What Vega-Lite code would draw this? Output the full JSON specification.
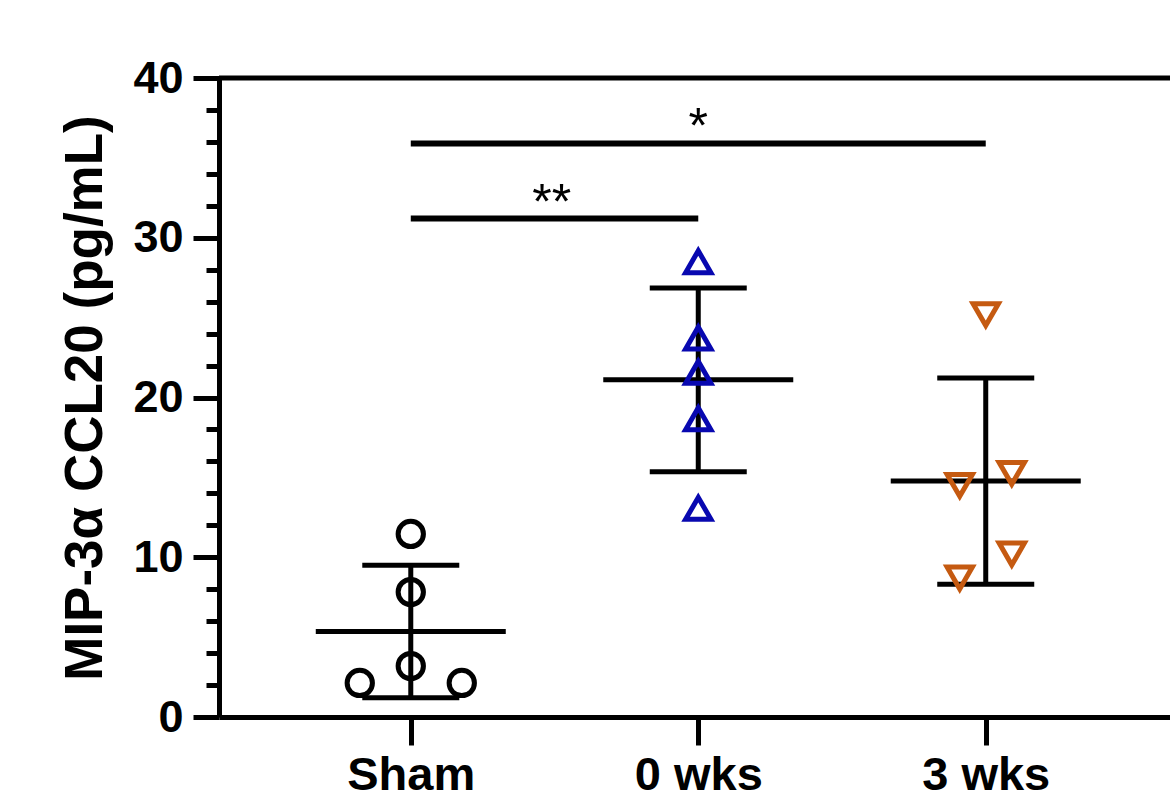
{
  "$schema": "https://vega.github.io/schema/vega-lite/v6.json",
  "autosize": {"type": "none"},
  "width": 951,
  "height": 639,
  "padding": {"left": 219, "top": 78, "right": 0, "bottom": 75},
  "background": "white",
  "config": {"view": {"stroke": null}, "font": "Liberation Sans"},
  "datasets": {
    "points": [
      {"group": "Sham", "value": 11.46, "jitter": 0},
      {"group": "Sham", "value": 7.82, "jitter": 0},
      {"group": "Sham", "value": 3.19, "jitter": 0},
      {"group": "Sham", "value": 2.13, "jitter": -1},
      {"group": "Sham", "value": 2.13, "jitter": 1},
      {"group": "0 wks", "value": 28.5, "jitter": 0},
      {"group": "0 wks", "value": 23.72, "jitter": 0},
      {"group": "0 wks", "value": 21.58, "jitter": 0},
      {"group": "0 wks", "value": 18.67, "jitter": 0},
      {"group": "0 wks", "value": 13.06, "jitter": 0},
      {"group": "3 wks", "value": 25.19, "jitter": 0},
      {"group": "3 wks", "value": 14.5, "jitter": -0.51},
      {"group": "3 wks", "value": 15.25, "jitter": 0.51},
      {"group": "3 wks", "value": 10.2, "jitter": 0.51},
      {"group": "3 wks", "value": 8.7, "jitter": -0.51}
    ],
    "sig": [
      {"from": "Sham", "to": "0 wks", "y": 31.2, "label": "**"},
      {"from": "Sham", "to": "3 wks", "y": 35.9, "label": "*"}
    ]
  },
  "layer": [
    {
      "data": {"name": "points"},
      "mark": {"type": "errorbar", "extent": "stdev", "ticks": {"opacity": 1, "color": "black"}, "rule": {"opacity": 1, "color": "black"}, "size": 97, "thickness": 5, "color": "black"},
      "encoding": {
        "x": {
          "field": "group", "type": "nominal",
          "scale": {"type": "point", "domain": ["Sham", "0 wks", "3 wks"], "padding": 0.654, "align": 0.51},
          "axis": {
            "title": null,
            "labelAngle": 0,
            "labelFont": "Liberation Sans",
            "labelFontSize": 47,
            "labelFontWeight": "bold",
            "labelColor": "black",
            "labelPadding": 7,
            "domainColor": "black",
            "domainWidth": 5,
            "tickColor": "black",
            "tickWidth": 5,
            "tickSize": 28,
            "grid": false
          }
        },
        "y": {
          "field": "value", "type": "quantitative",
          "scale": {"domain": [0, 40], "nice": false, "zero": true},
          "axis": {
            "values": [0, 2, 4, 6, 8, 10, 12, 14, 16, 18, 20, 22, 24, 26, 28, 30, 32, 34, 36, 38, 40],
            "tickCount": 100,
            "format": "d",
            "tickSize": {"condition": {"test": "datum.value % 10 === 0", "value": 26}, "value": 13},
            "labelExpr": "datum.value % 10 === 0 ? datum.label : ''",
            "labelFont": "Liberation Sans",
            "labelFontSize": 45,
            "labelFontWeight": "bold",
            "labelColor": "black",
            "labelPadding": 10,
            "labelFlush": false,
            "labelOverlap": false,
            "labelBound": false,
            "domainColor": "black",
            "domainWidth": 5,
            "tickColor": "black",
            "tickWidth": 5,
            "grid": false,
            "title": "MIP-3α CCL20 (pg/mL)",
            "titleFont": "Liberation Sans",
            "titleFontSize": 53,
            "titleFontWeight": "bold",
            "titleColor": "black",
            "titlePadding": 20
          }
        }
      }
    },
    {
      "data": {"name": "points"},
      "mark": {"type": "tick", "size": 190, "thickness": 5, "color": "black", "opacity": 1},
      "encoding": {
        "x": {"field": "group", "type": "nominal"},
        "y": {"aggregate": "mean", "field": "value", "type": "quantitative"}
      }
    },
    {
      "data": {"name": "points"},
      "mark": {"type": "point", "filled": false, "strokeWidth": 5, "opacity": 1},
      "encoding": {
        "x": {"field": "group", "type": "nominal"},
        "xOffset": {"field": "jitter", "type": "quantitative", "scale": {"domain": [-1, 1], "range": [-51, 51]}},
        "y": {"field": "value", "type": "quantitative"},
        "shape": {"field": "group", "type": "nominal", "scale": {"domain": ["Sham", "0 wks", "3 wks"], "range": ["circle", "triangle-up", "triangle-down"]}, "legend": null},
        "color": {"field": "group", "type": "nominal", "scale": {"domain": ["Sham", "0 wks", "3 wks"], "range": ["#000000", "#0808b0", "#c55a11"]}, "legend": null},
        "size": {"value": 640}
      }
    },
    {
      "data": {"name": "sig"},
      "mark": {"type": "rule", "strokeWidth": 6, "color": "black"},
      "encoding": {
        "x": {"field": "from", "type": "nominal"},
        "x2": {"field": "to"},
        "y": {"field": "y", "type": "quantitative"}
      }
    },
    {
      "data": {"name": "sig"},
      "transform": [{"filter": "datum.label === '*'"}],
      "mark": {"type": "text", "font": "Liberation Sans", "fontSize": 50, "baseline": "alphabetic", "color": "black"},
      "encoding": {
        "x": {"datum": "0 wks"},
        "y": {"field": "y", "type": "quantitative"},
        "text": {"field": "label"}
      }
    },
    {
      "data": {"name": "sig"},
      "transform": [{"filter": "datum.label === '**'"}],
      "mark": {"type": "text", "font": "Liberation Sans", "fontSize": 50, "baseline": "alphabetic", "dx": 141, "color": "black"},
      "encoding": {
        "x": {"field": "from", "type": "nominal"},
        "y": {"field": "y", "type": "quantitative"},
        "text": {"field": "label"}
      }
    },
    {
      "data": {"values": [{}]},
      "mark": {"type": "rule", "strokeWidth": 5, "color": "black"},
      "encoding": {"y": {"datum": 40}}
    }
  ]
}
